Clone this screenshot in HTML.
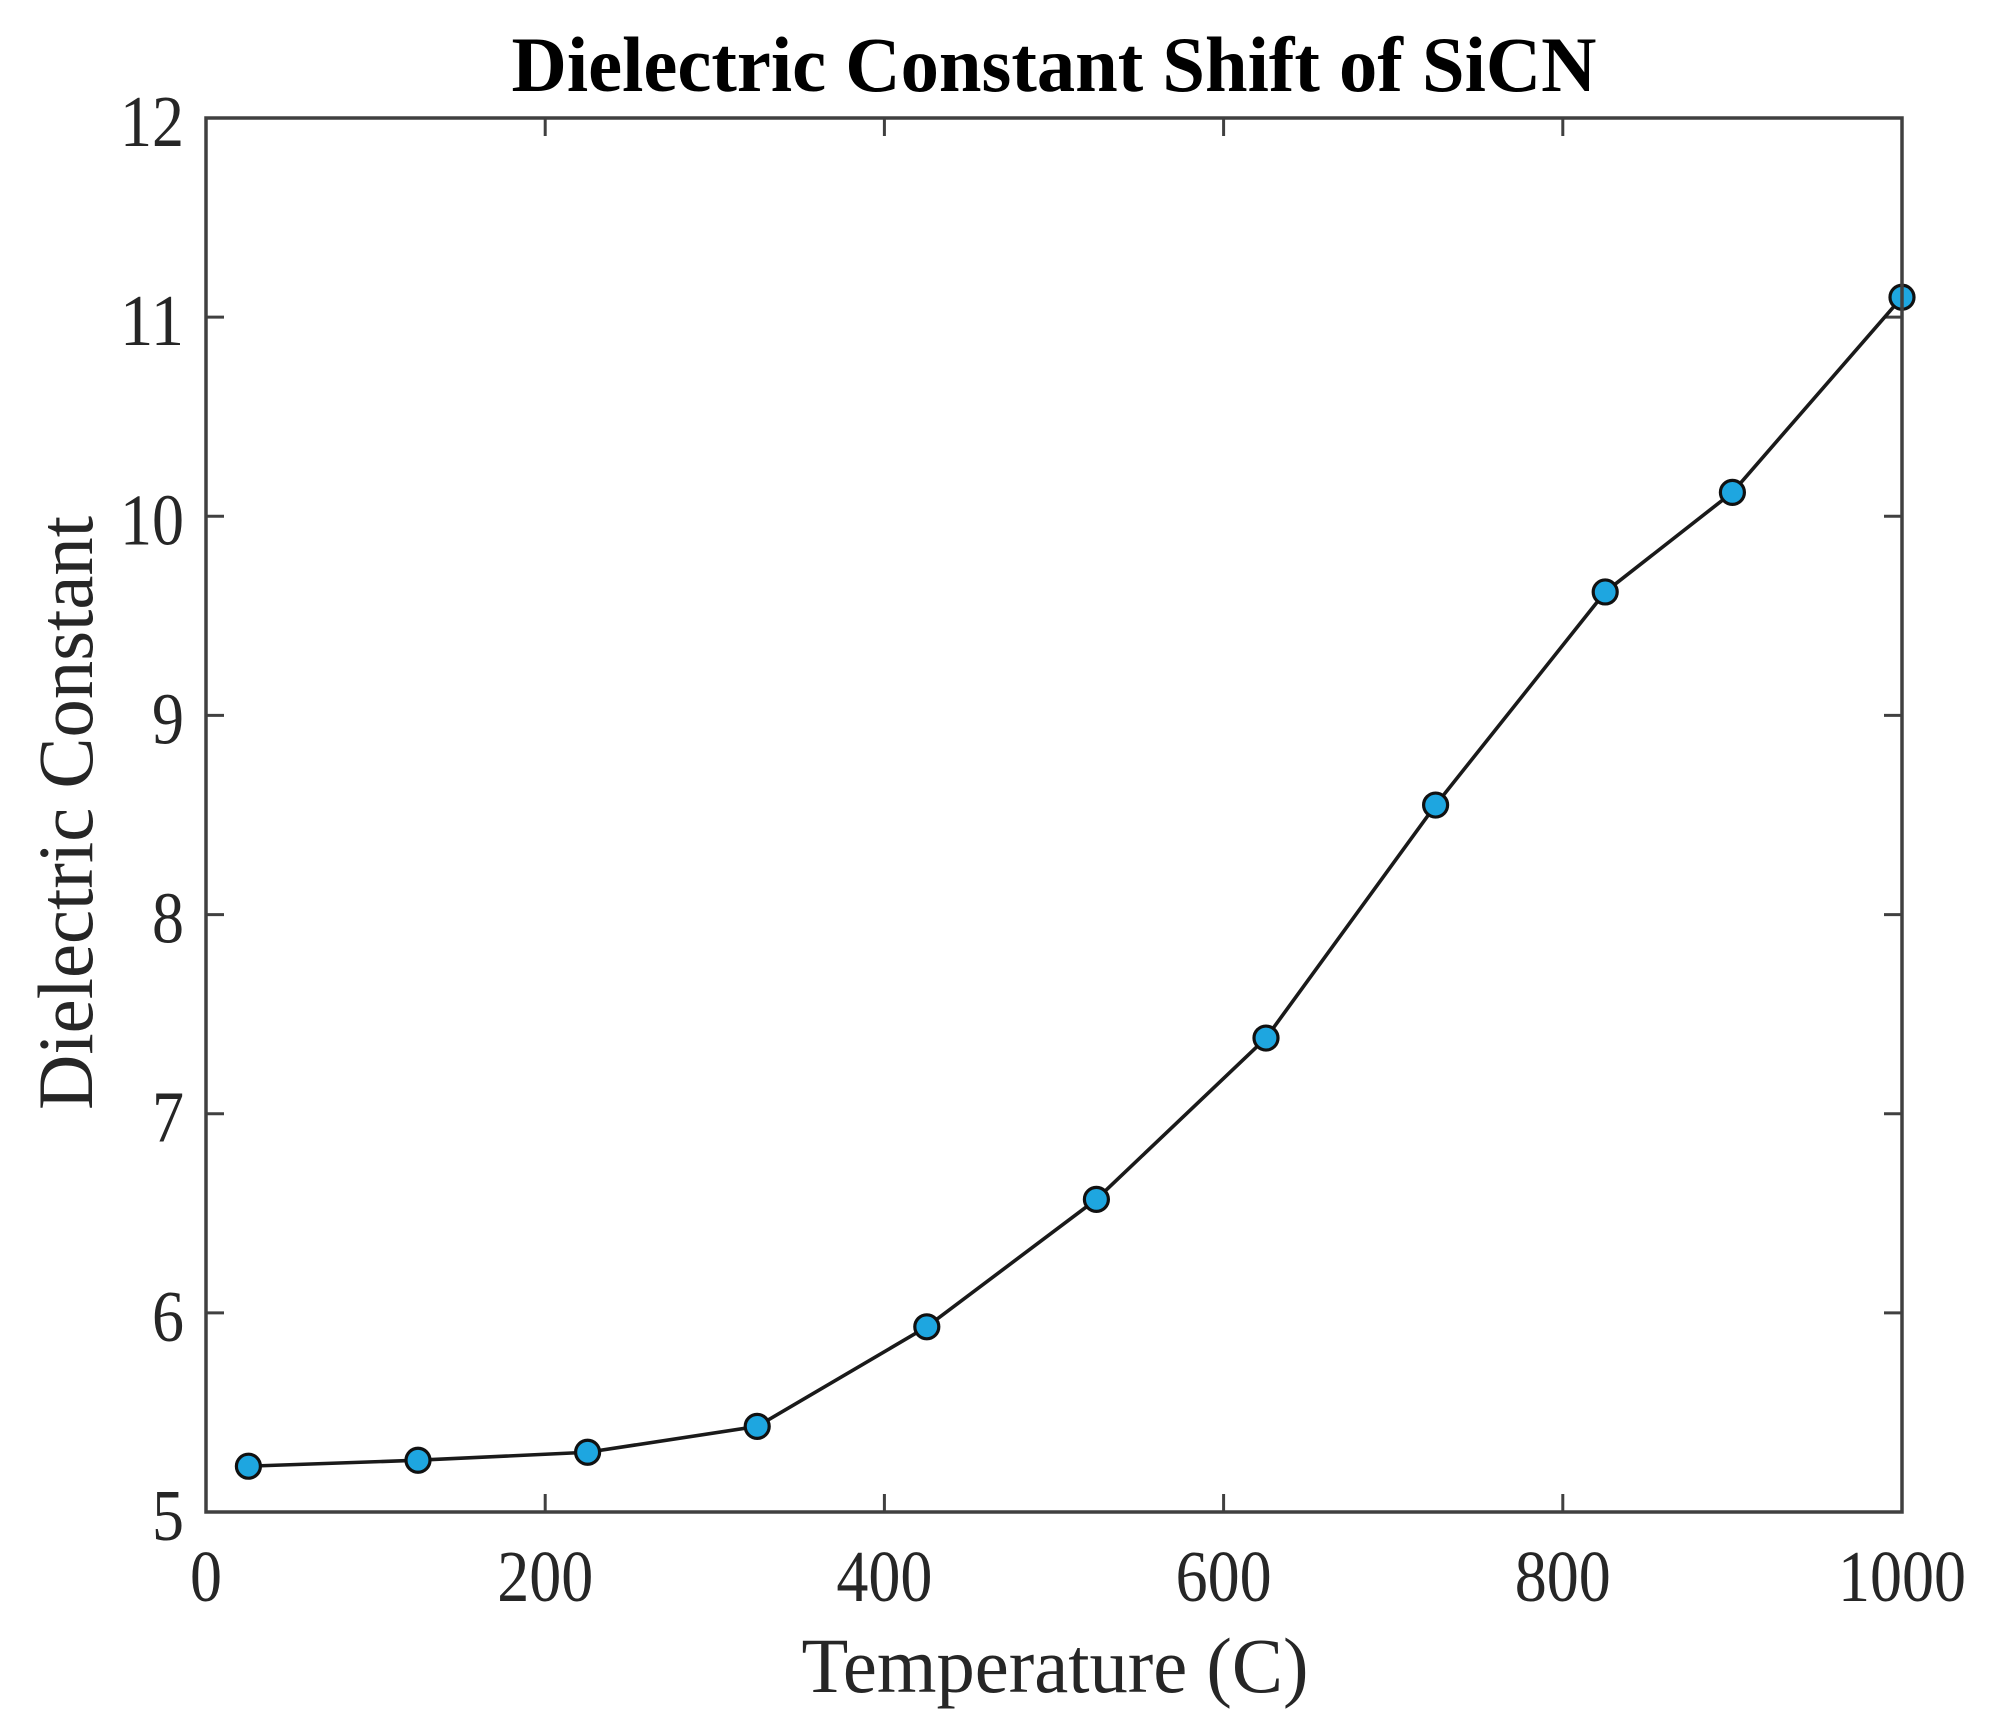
<!DOCTYPE html>
<html><head><meta charset="utf-8"><style>
html,body{margin:0;padding:0;background:#fff;}
svg{display:block;}
text{font-family:"Liberation Serif",serif;fill:#262626;}
</style></head>
<body>
<svg id="chart" width="2003" height="1723" viewBox="0 0 2003 1723" xmlns="http://www.w3.org/2000/svg">
<text x="1054" y="91" text-anchor="middle" font-size="78" font-weight="bold" style="fill:#000" textLength="1085" lengthAdjust="spacingAndGlyphs">Dielectric Constant Shift of SiCN</text>
<text x="1055" y="1692" text-anchor="middle" font-size="78" textLength="507" lengthAdjust="spacingAndGlyphs">Temperature (C)</text>
<text transform="translate(92,813) rotate(-90)" x="0" y="0" text-anchor="middle" font-size="78" textLength="594" lengthAdjust="spacingAndGlyphs">Dielectric Constant</text>
<g id="ticks"></g>
<g id="series"></g>
<rect x="206" y="118" width="1696" height="1394" fill="none" stroke="#404040" stroke-width="3.5"/>
</svg>
<script>
const temps = [25,125,225,325,425,525,625,725,825,900,1000];
const kValues = [5.23,5.26,5.30,5.43,5.93,6.57,7.38,8.55,9.62,10.12,11.10];
const xTicks = [0,200,400,600,800,1000];
const yTicks = [5,6,7,8,9,10,11,12];
const X0=206,X1=1902,Y0=1512,Y1=118;
function sx(v){return X0+(v-0)/(1000-0)*(X1-X0);}
function sy(v){return Y0-(v-5)/(12-5)*(Y0-Y1);}
const NS="http://www.w3.org/2000/svg";
const tg=document.getElementById('ticks');
function mk(tag,attrs,parent){const e=document.createElementNS(NS,tag);for(const k in attrs)e.setAttribute(k,attrs[k]);parent.appendChild(e);return e;}
xTicks.forEach(v=>{
  const x=sx(v);
  const t1=mk('line',{x1:x,x2:x,y1:Y0,y2:Y0-18,stroke:'#404040','stroke-width':3},tg);
  
  
  const t2=mk('line',{x1:x,x2:x,y1:Y1,y2:Y1+18,stroke:'#404040','stroke-width':3},tg);
  
  
  const s=String(v);
  const tx=mk('text',{x:x,y:1601,'text-anchor':'middle','font-size':73,textLength:s.length*32,lengthAdjust:'spacingAndGlyphs'},tg);
  tx.textContent=s;
  
  
});
yTicks.forEach(v=>{
  const y=sy(v);
  const t1=mk('line',{x1:X0,x2:X0+18,y1:y,y2:y,stroke:'#404040','stroke-width':3},tg);
  
  
  const t2=mk('line',{x1:X1,x2:X1-18,y1:y,y2:y,stroke:'#404040','stroke-width':3},tg);
  
  
  const s=String(v);
  const ty=mk('text',{x:184,y:y+28,'text-anchor':'end','font-size':73,textLength:s.length*32,lengthAdjust:'spacingAndGlyphs'},tg);
  ty.textContent=s;
  
  
});
const sg=document.getElementById('series');
const pts=temps.map((t,i)=>sx(t)+','+sy(kValues[i])).join(' ');
const line=mk('polyline',{points:pts,fill:'none',stroke:'#1a1a1a','stroke-width':3.6},sg);


temps.forEach((t,i)=>{
  const c=mk('circle',{cx:sx(t),cy:sy(kValues[i]),r:12,fill:'#1ea6e0',stroke:'#111','stroke-width':3.2},sg);
  
  
});
</script>
</body></html>
